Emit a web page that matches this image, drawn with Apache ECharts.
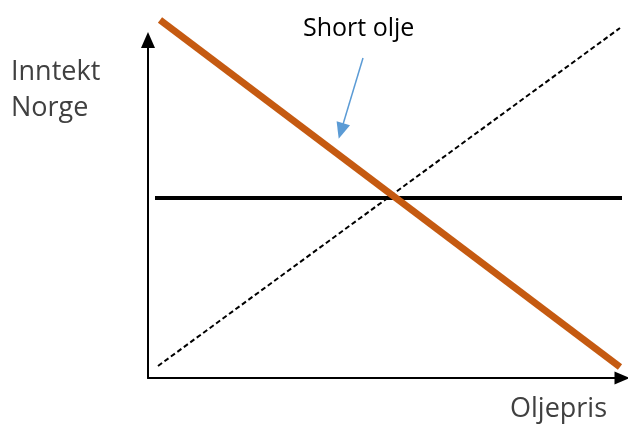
<!DOCTYPE html>
<html>
<head>
<meta charset="utf-8">
<script src="https://cdn.jsdelivr.net/npm/echarts@6/dist/echarts.min.js"></script>
<style>
  html, body { margin: 0; padding: 0; background: #fff; }
  #chart { width: 628px; height: 425px; }
</style>
</head>
<body>
<div id="chart"></div>
<script>
// linjer (x = oljepris, y = inntekt), lest av bildet
const shortOljeLine = [[12, 358], [472, 11]];
const dashedLine = [[10, 12], [472, 350]];
const flatLine = [[7, 180], [474, 180]];
const annotationArrow = [[215, 320], [193, 247]];

const yLabel = 'Inntekt\nNorge';
const xLabel = 'Oljepris';
const noteLabel = 'Short olje';

const chart = echarts.init(document.getElementById('chart'));

const option = {
    animation: false,
    grid: {
        left: 148,
        right: 6,
        top: 40,
        bottom: 47
    },
    xAxis: {
        type: 'value',
        min: 0,
        max: 474,
        axisLine: {
            show: true,
            symbol: ['none', 'triangle'],
            symbolSize: [13, 15],
            lineStyle: { color: '#000', width: 2 }
        },
        axisTick: { show: false },
        axisLabel: { show: false },
        splitLine: { show: false }
    },
    yAxis: {
        type: 'value',
        min: 0,
        max: 338,
        axisLine: {
            show: true,
            symbol: ['none', 'triangle'],
            symbolSize: [14, 16],
            lineStyle: { color: '#000', width: 2 }
        },
        axisTick: { show: false },
        axisLabel: { show: false },
        splitLine: { show: false }
    },
    series: [
        {
            type: 'line',
            data: dashedLine,
            symbol: 'none',
            clip: false,
            lineStyle: { color: '#000', width: 2, type: [5, 3] }
        },
        {
            type: 'line',
            data: flatLine,
            symbol: 'none',
            clip: false,
            lineStyle: { color: '#000', width: 4 }
        },
        {
            type: 'line',
            data: shortOljeLine,
            symbol: 'none',
            clip: false,
            lineStyle: { color: '#C55A11', width: 7 }
        },
        {
            type: 'line',
            data: [],
            markLine: {
                silent: true,
                symbol: ['none', 'triangle'],
                symbolSize: [14, 16],
                label: { show: false },
                lineStyle: { color: '#5B9BD5', width: 1.5, type: 'solid' },
                data: [[
                    { coord: annotationArrow[0] },
                    { coord: annotationArrow[1] }
                ]]
            }
        }
    ],
    graphic: [
        {
            type: 'text',
            left: 11,
            top: 54,
            style: {
                text: yLabel,
                fontSize: 27,
                fontFamily: '"Open Sans", sans-serif',
                fill: '#404040',
                lineHeight: 36
            }
        },
        {
            type: 'text',
            left: 510,
            top: 396,
            style: {
                text: xLabel,
                fontSize: 27,
                fontFamily: '"Open Sans", sans-serif',
                fill: '#404040'
            }
        },
        {
            type: 'text',
            left: 303,
            top: 16,
            style: {
                text: noteLabel,
                fontSize: 25,
                fontFamily: '"Open Sans", sans-serif',
                fill: '#000'
            }
        }
    ]
};

chart.setOption(option);
</script>
</body>
</html>
